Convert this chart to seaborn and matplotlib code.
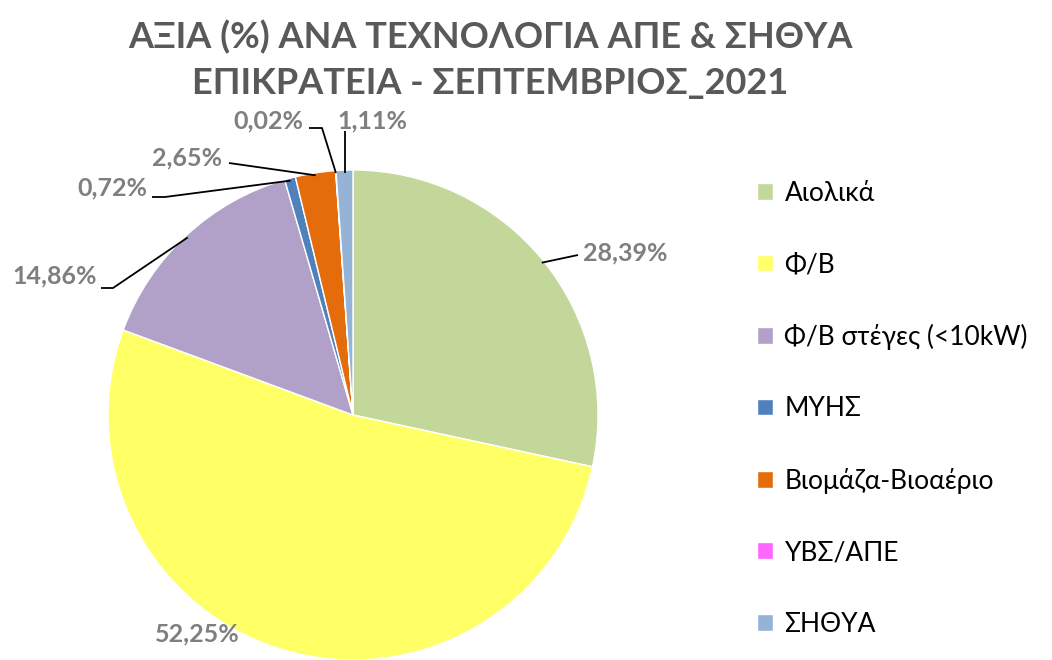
import numpy as np
import matplotlib
matplotlib.use("Agg")
import matplotlib.pyplot as plt
import seaborn as sns

# Δεδομένα
kathgories = ["Αιολικά", "Φ/Β", "Φ/Β στέγες (<10kW)", "ΜΥΗΣ",
              "Βιομάζα-Βιοαέριο", "ΥΒΣ/ΑΠΕ", "ΣΗΘΥΑ"]
pososta = [28.39, 52.25, 14.86, 0.72, 2.65, 0.02, 1.11]
xromata = ["#C4D79B", "#FFFF66", "#B1A0C7", "#4F81BD",
           "#E46C0A", "#FF66FF", "#95B3D7"]
titlos = "ΑΞΙΑ (%) ΑΝΑ ΤΕΧΝΟΛΟΓΙΑ ΑΠΕ & ΣΗΘΥΑ\nΕΠΙΚΡΑΤΕΙΑ - ΣΕΠΤΕΜΒΡΙΟΣ_2021"

sns.set_theme(style="white")
plt.rcParams['font.family'] = ['Lato', 'DejaVu Sans']

W, H = 1052, 660
fig = plt.figure(figsize=(W / 100, H / 100), dpi=100)

# κέντρο και ακτίνα πίτας σε pixel
cx, cy, R = 353, 415, 245
half = 250
ax = fig.add_axes([(cx - half) / W, (H - cy - half) / H, 2 * half / W, 2 * half / H])
lim = half / R

wedges, _ = ax.pie(pososta, colors=sns.color_palette(xromata), startangle=90,
                   counterclock=False, radius=1,
                   wedgeprops=dict(edgecolor="white", linewidth=1))
ax.set_xlim(-lim, lim)
ax.set_ylim(-lim, lim)
ax.set_aspect("equal")
ax.axis("off")


def px(x, y):
    return (x - cx) / R, (cy - y) / R


# θέσεις ετικετών (pixel): κέντρο κειμένου, σημεία γραμμής
etiketes = [
    ((625, 253), [(578, 255)]),
    ((197, 634), []),
    ((55, 276), [(113, 288), (101, 288)]),
    ((112, 188), [(165, 197), (152, 197)]),
    ((187, 158), [(229, 163)]),
    ((268, 121), [(322, 128), (309, 128)]),
    ((372, 121), [(345, 131)]),
]

for w, val, (tpos, pts) in zip(wedges, pososta, etiketes):
    ang = np.deg2rad((w.theta1 + w.theta2) / 2)
    x0, y0 = np.cos(ang) * 0.99, np.sin(ang) * 0.99
    if pts:
        xs = [x0] + [px(*p)[0] for p in pts]
        ys = [y0] + [px(*p)[1] for p in pts]
        if len(pts) == 1 and val == pososta[-1]:
            xs[-1] = x0
        ax.plot(xs, ys, color="black", lw=1.3, solid_capstyle="butt", clip_on=False)
    tx, ty = px(*tpos)
    ax.text(tx, ty, f"{val:.2f}%".replace(".", ","), ha="center", va="center",
            fontsize=18, fontweight="bold", color="#7F7F7F")

fig.text(490 / W, 1 - 60 / H, titlos, ha="center", va="center", fontsize=26,
         fontweight="bold", color="#595959", linespacing=1.45)

fig.legend(wedges, kathgories, loc="upper left", bbox_to_anchor=(733 / W, 1 - 157 / H),
           frameon=False, fontsize=19, handlelength=0.6, handleheight=0.6,
           handletextpad=0.45, labelspacing=1.76, labelcolor="black",
           borderpad=0.4)

fig.savefig("out.png", dpi=100)
